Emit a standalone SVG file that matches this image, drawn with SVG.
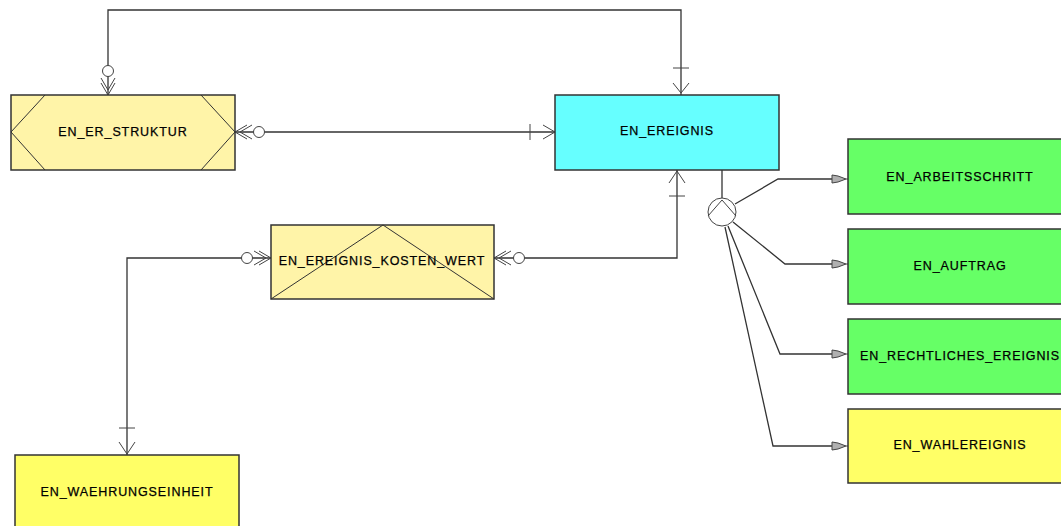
<svg xmlns="http://www.w3.org/2000/svg" width="1061" height="526" viewBox="0 0 1061 526">
<style>
.box{stroke:#333;stroke-width:1.5}
.deco{stroke:#333;stroke-width:1;fill:none}
.lbl{font-family:"Liberation Sans",Arial,sans-serif;font-size:12.5px;letter-spacing:0.9px;fill:#000;stroke:#000;stroke-width:0.25;text-anchor:middle;dominant-baseline:central}
.ln{stroke:#333;stroke-width:1.3;fill:none}
.sym{stroke:#444;stroke-width:1;fill:none}
.circ{stroke:#444;stroke-width:1;fill:#fff}
.arr{fill:#b0b0b0;stroke:#444;stroke-width:1}
.pale{fill:#FFF4A8}
.cyan{fill:#66FFFF}
.green{fill:#66FF66}
.yellow{fill:#FFFF66}
</style>
<rect width="1061" height="526" fill="#fff"/>

<g id="connectors">
  <polyline class="ln" points="108,95 108,10 681,10 681,95"/>
  <circle class="circ" cx="108" cy="71" r="5.5"/>
  <path class="sym" d="M108,95 L101,83 M108,95 L115,83 M108,90 L101,78 M108,90 L115,78"/>
  <path class="sym" d="M673,68 L689,68 M681,93 L673,83 M681,93 L689,83"/>

  <line class="ln" x1="235" y1="132" x2="555" y2="132"/>
  <path class="sym" d="M235,132 L247,125 M235,132 L247,139 M240,132 L252,125 M240,132 L252,139"/>
  <circle class="circ" cx="259" cy="132" r="5.5"/>
  <path class="sym" d="M530,124 L530,140 M555,132 L543,125 M555,132 L543,139"/>

  <polyline class="ln" points="494,258 677,258 677,170"/>
  <path class="sym" d="M494,258 L506,251 M494,258 L506,265 M499,258 L511,251 M499,258 L511,265"/>
  <circle class="circ" cx="519" cy="258" r="5.5"/>
  <path class="sym" d="M669,196 L685,196 M677,171 L669,183 M677,171 L685,183"/>

  <polyline class="ln" points="271,258 127,258 127,455"/>
  <path class="sym" d="M271,258 L259,251 M271,258 L259,265 M266,258 L254,251 M266,258 L254,265"/>
  <circle class="circ" cx="247" cy="258" r="5.5"/>
  <path class="sym" d="M119,428 L135,428 M127,454 L119,442 M127,454 L135,442"/>

  <line class="ln" x1="722" y1="170" x2="722" y2="198"/>
  <polyline class="ln" points="735,204 778,179 832,179"/>
  <polyline class="ln" points="733,222 785,264 832,264"/>
  <polyline class="ln" points="728,226 780,354 832,354"/>
  <polyline class="ln" points="725,227 773,446 832,446"/>
  <circle class="circ" cx="722" cy="212" r="14"/>
  <path class="sym" d="M708,216 L722,200 L736,216"/>
  <path class="arr" d="M832,175 L838,176 L846,179 L838,182 L832,183 Z"/>
  <path class="arr" d="M832,260 L838,261 L846,264 L838,267 L832,268 Z"/>
  <path class="arr" d="M832,350 L838,351 L846,354 L838,357 L832,358 Z"/>
  <path class="arr" d="M832,442 L838,443 L846,446 L838,449 L832,450 Z"/>
  <path class="sym" d="M846,179 L848,179 M846,264 L848,264 M846,354 L848,354 M846,446 L848,446"/>
</g>

<g id="EN_ER_STRUKTUR">
  <rect class="box pale" x="11" y="95" width="224" height="75"/>
  <path class="deco" d="M45,95 L11,132 L45,170 M201,95 L235,132 L201,170"/>
  <text class="lbl" x="123" y="132">EN_ER_STRUKTUR</text>
</g>

<g id="EN_EREIGNIS">
  <rect class="box cyan" x="555" y="95" width="224" height="75"/>
  <text class="lbl" x="667" y="131">EN_EREIGNIS</text>
</g>

<g id="EN_EREIGNIS_KOSTEN_WERT">
  <rect class="box pale" x="271" y="225" width="223" height="74"/>
  <path class="deco" d="M271,299 L383,225 L494,299"/>
  <text class="lbl" x="382" y="261">EN_EREIGNIS_KOSTEN_WERT</text>
</g>

<g id="EN_WAEHRUNGSEINHEIT">
  <rect class="box yellow" x="15" y="455" width="224" height="75"/>
  <text class="lbl" x="127" y="492">EN_WAEHRUNGSEINHEIT</text>
</g>

<g id="EN_ARBEITSSCHRITT">
  <rect class="box green" x="848" y="139" width="224" height="75"/>
  <text class="lbl" x="960" y="177">EN_ARBEITSSCHRITT</text>
</g>

<g id="EN_AUFTRAG">
  <rect class="box green" x="848" y="229" width="224" height="75"/>
  <text class="lbl" x="960" y="266">EN_AUFTRAG</text>
</g>

<g id="EN_RECHTLICHES_EREIGNIS">
  <rect class="box green" x="848" y="319" width="224" height="75"/>
  <text class="lbl" x="960" y="356">EN_RECHTLICHES_EREIGNIS</text>
</g>

<g id="EN_WAHLEREIGNIS">
  <rect class="box yellow" x="848" y="409" width="224" height="74"/>
  <text class="lbl" x="960" y="445">EN_WAHLEREIGNIS</text>
</g>
</svg>
